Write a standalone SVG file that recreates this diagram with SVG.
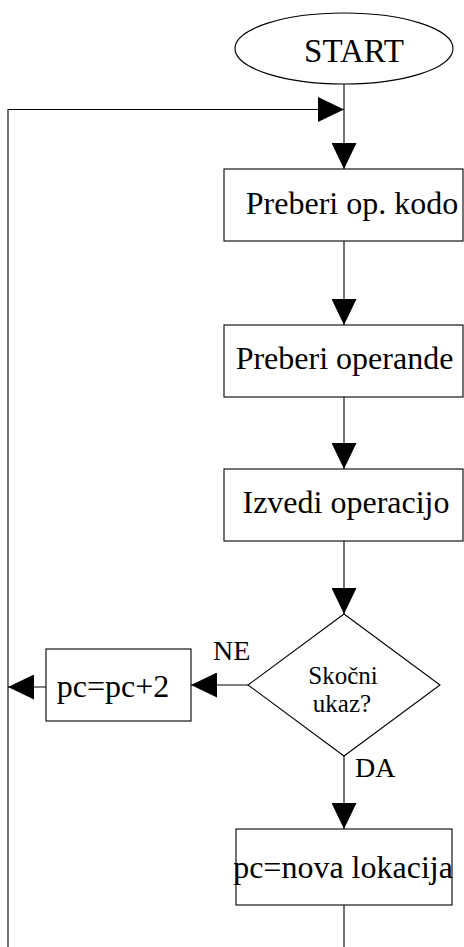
<svg xmlns="http://www.w3.org/2000/svg" width="464" height="947" viewBox="0 0 464 947">
<style>
.s{fill:#fff;stroke:#000;stroke-width:1.1}
.c{fill:none;stroke:#000;stroke-width:1.1}
.m{text-anchor:middle;font-size:32px}
.l{font-size:28px}
</style>
<defs>
<marker id="a" viewBox="0 0 26 25" refX="26" refY="12.5" markerWidth="26" markerHeight="25" markerUnits="userSpaceOnUse" orient="auto">
<path d="M0,0 L26,12.5 L0,25 Z" fill="#000"/>
</marker>
</defs>
<g font-family="'Liberation Serif', 'Times New Roman', 'DejaVu Serif', serif" fill="#000">
<g id="connectors">
<path class="c" d="M344,84 V169" marker-end="url(#a)"/>
<path class="c" d="M8,947 V109.5 H344" marker-end="url(#a)"/>
<path class="c" d="M344,241 V325" marker-end="url(#a)"/>
<path class="c" d="M344,397 V469" marker-end="url(#a)"/>
<path class="c" d="M344,541 V614" marker-end="url(#a)"/>
<path class="c" d="M248,685 H191" marker-end="url(#a)"/>
<path class="c" d="M46,687 H8" marker-end="url(#a)"/>
<path class="c" d="M344,756 V829" marker-end="url(#a)"/>
<path class="c" d="M344,903 V947"/>
<text class="l" x="213" y="660">NE</text>
<text class="l" x="355" y="777">DA</text>
</g>
<g id="start">
<ellipse class="s" cx="344" cy="48.5" rx="109" ry="35.5"/>
<text x="354" y="62" text-anchor="middle" font-size="33">START</text>
</g>
<g id="fetch">
<rect class="s" x="224" y="169" width="239" height="72"/>
<text class="m" x="352" y="214">Preberi op. kodo</text>
</g>
<g id="operands">
<rect class="s" x="224" y="325" width="239" height="72"/>
<text class="m" x="344.5" y="369">Preberi operande</text>
</g>
<g id="execute">
<rect class="s" x="224" y="469" width="239" height="72"/>
<text class="m" x="346" y="513">Izvedi operacijo</text>
</g>
<g id="decision">
<path class="s" d="M344,614 L440,685 L344,756 L248,685 Z"/>
<text x="343" y="684" text-anchor="middle" font-size="25">Skočni</text>
<text x="342" y="712" text-anchor="middle" font-size="25">ukaz?</text>
</g>
<g id="increment">
<rect class="s" x="46" y="649" width="145" height="72"/>
<text class="m" x="113" y="697">pc=pc+2</text>
</g>
<g id="jump">
<rect class="s" x="236" y="829" width="216" height="76"/>
<text class="m" x="343" y="878">pc=nova lokacija</text>
</g>
</g>
</svg>
